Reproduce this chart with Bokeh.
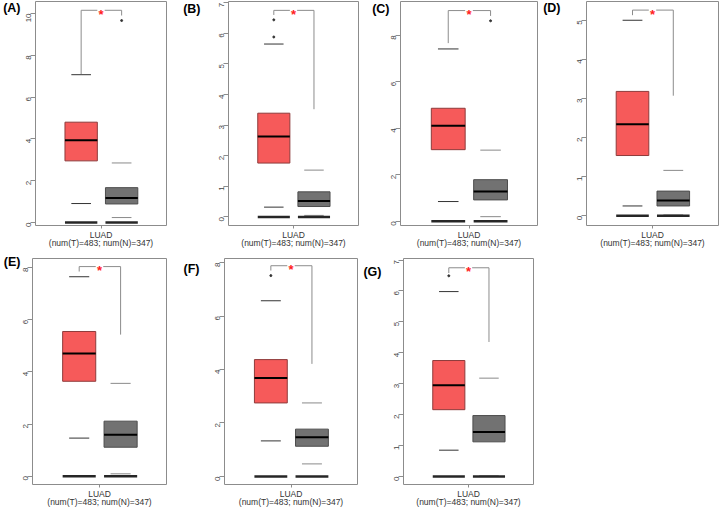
import math
from bokeh.plotting import figure
from bokeh.layouts import column, row
from bokeh.models import FixedTicker, Range1d, LinearAxis
from bokeh.embed import file_html
from bokeh.resources import INLINE

# ---------------- data ----------------
panel_labels = ["(A)", "(B)", "(C)", "(D)", "(E)", "(F)", "(G)"]
cancer_label = "LUAD"
sample_label = "(num(T)=483; num(N)=347)"

tumor_low = [0.91, 0.32, 0.85, 0.25, 1.46, 1.33, 0.85]
tumor_q1 = [2.95, 1.76, 3.08, 1.54, 3.64, 2.75, 2.16]
tumor_med = [3.94, 2.63, 4.11, 2.34, 4.71, 3.68, 2.95]
tumor_q3 = [4.80, 3.39, 4.86, 3.18, 5.55, 4.37, 3.75]
tumor_high = [7.07, 5.65, 7.41, 5.00, 7.65, 6.57, 5.98]

normal_low = [0.24, 0.05, 0.20, 0.02, 0.09, 0.47, 0.02]
normal_q1 = [0.89, 0.34, 0.92, 0.25, 1.11, 1.13, 1.12]
normal_med = [1.18, 0.52, 1.28, 0.39, 1.59, 1.47, 1.44]
normal_q3 = [1.67, 0.82, 1.79, 0.63, 2.11, 1.77, 1.97]
normal_high = [2.85, 1.53, 3.06, 1.16, 3.56, 2.75, 3.18]

# significance bracket: common level and where each arm ends
bracket_level = [10.15, 6.75, 9.06, 5.26, 8.04, 7.88, 6.75]
bracket_tumor_end = [7.10, 6.60, 7.66, 5.13, 7.85, 7.70, 6.58]
bracket_normal_end = [9.90, 3.52, 8.83, 3.07, 5.43, 4.21, 4.35]

# a few isolated points that stand clear of the clouds
outlier_panel = [0, 1, 1, 2, 5, 6]
outlier_group = ["N", "T", "T", "N", "T", "T"]
outlier_value = [9.66, 6.44, 5.88, 8.62, 7.51, 6.49]

y_ticks = [
    [0, 2, 4, 6, 8, 10],
    [0, 1, 2, 3, 4, 5, 6, 7],
    [0, 2, 4, 6, 8],
    [0, 1, 2, 3, 4, 5],
    [0, 2, 4, 6, 8],
    [0, 2, 4, 6, 8],
    [0, 1, 2, 3, 4, 5, 6, 7],
]

# ---------------- layout / style ----------------
y_lo = [-0.14, -0.28, -0.18, -0.25, -0.32, -0.30, -0.26]
y_hi = [10.57, 7.04, 9.45, 5.48, 8.35, 8.15, 7.05]
tag_y = [10.26, 6.80, 9.13, 5.32, 8.33, 7.74, 6.60]   # vertical centre of each panel tag
# (width, height, border L, R, T, B, panel-tag standoff)
geom = [
    (180, 253, 33, 14, 1, 28, 0),
    (180, 253, 44, 2, 1, 26, 13),
    (180, 253, 40, 3, 1, 24, -4),
    (180, 253, 46, 2, 1, 24, 11),
    (180, 259, 31, 14, 4, 28, -3),
    (180, 259, 43, 3, 5, 28, 10),
    (180, 259, 39, 7, 2, 27, 7),
]

T_BOX = (0.225, 0.472)
N_BOX = (0.534, 0.781)
WHISK = 0.075
GAP = 0.028
FONT = "Liberation Sans"
FRAME = "#8c8c8c"
T_FILL, T_LINE = "#f65a5a", "#8e3b3b"
N_FILL, N_LINE = "#727272", "#4d4d4d"


def make_panel(i):
    w, h, bl, br, bt, bb, tag_off = geom[i]
    p = figure(width=w, height=h, x_range=Range1d(0, 1),
               y_range=Range1d(y_lo[i], y_hi[i]),
               output_backend="svg", toolbar_location=None,
               min_border_left=bl, min_border_right=br,
               min_border_top=bt, min_border_bottom=bb)
    p.grid.visible = False
    p.outline_line_color = FRAME
    p.outline_line_width = 1

    ya = p.yaxis[0]
    ya.ticker = FixedTicker(ticks=y_ticks[i])
    ya.major_label_orientation = math.pi / 2
    ya.axis_line_color = None
    ya.axis_label = None
    ya.major_tick_in = 0
    ya.major_tick_out = 5
    ya.major_tick_line_color = FRAME
    ya.minor_tick_line_color = None
    ya.major_label_standoff = 2
    ya.major_label_text_font = FONT
    ya.major_label_text_font_size = "8px"
    ya.major_label_text_color = "#444444"

    # panel tag: the single tick label of an extra, line-less left axis
    tag = LinearAxis(ticker=FixedTicker(ticks=[tag_y[i]]),
                     major_label_overrides={tag_y[i]: panel_labels[i]},
                     major_label_orientation="horizontal",
                     axis_line_color=None, major_tick_line_color=None,
                     minor_tick_line_color=None, major_tick_in=0, major_tick_out=0,
                     major_label_standoff=tag_off, axis_label=None,
                     major_label_text_font=FONT, major_label_text_font_size="12.5px",
                     major_label_text_font_style="bold", major_label_text_color="black")
    p.add_layout(tag, "left")

    xa = p.xaxis[0]
    xa.ticker = FixedTicker(ticks=[0.5])
    xa.major_label_overrides = {0.5: cancer_label + "\n" + sample_label}
    xa.axis_label = None
    xa.axis_line_color = None
    xa.major_tick_in = 0
    xa.major_tick_out = 3
    xa.major_tick_line_color = FRAME
    xa.minor_tick_line_color = None
    xa.major_label_standoff = 1
    xa.major_label_text_font = FONT
    xa.major_label_text_font_size = "8.5px"
    xa.major_label_text_line_height = 0.85
    xa.major_label_text_color = "#333333"

    tc = (T_BOX[0] + T_BOX[1]) / 2
    nc = (N_BOX[0] + N_BOX[1]) / 2

    # boxes
    p.quad(left=[T_BOX[0]], right=[T_BOX[1]], bottom=[tumor_q1[i]], top=[tumor_q3[i]],
           fill_color=T_FILL, line_color=T_LINE, line_width=1)
    p.quad(left=[N_BOX[0]], right=[N_BOX[1]], bottom=[normal_q1[i]], top=[normal_q3[i]],
           fill_color=N_FILL, line_color=N_LINE, line_width=1)
    # medians
    p.segment(x0=[T_BOX[0], N_BOX[0]], x1=[T_BOX[1], N_BOX[1]],
              y0=[tumor_med[i], normal_med[i]], y1=[tumor_med[i], normal_med[i]],
              line_color="black", line_width=2)
    # whiskers
    p.segment(x0=[tc - WHISK, tc - WHISK], x1=[tc + WHISK, tc + WHISK],
              y0=[tumor_low[i], tumor_high[i]], y1=[tumor_low[i], tumor_high[i]],
              line_color="#333333", line_width=1)
    p.segment(x0=[nc - WHISK, nc - WHISK], x1=[nc + WHISK, nc + WHISK],
              y0=[normal_low[i], normal_high[i]], y1=[normal_low[i], normal_high[i]],
              line_color="#8a8a8a", line_width=1)
    # zero bars
    p.segment(x0=[T_BOX[0], N_BOX[0]], x1=[T_BOX[1], N_BOX[1]], y0=[0, 0], y1=[0, 0],
              line_color="#262626", line_width=2.5)
    # isolated points
    ox, oy = [], []
    for k, pi_ in enumerate(outlier_panel):
        if pi_ == i:
            ox.append(tc if outlier_group[k] == "T" else nc)
            oy.append(outlier_value[k])
    if ox:
        p.scatter(x=ox, y=oy, size=2, color="#333333", marker="circle")
    # bracket
    lvl = bracket_level[i]
    p.multi_line(xs=[[tc, tc, 0.5 - GAP], [0.5 + GAP, nc, nc]],
                 ys=[[bracket_tumor_end[i], lvl, lvl], [lvl, lvl, bracket_normal_end[i]]],
                 line_color=FRAME, line_width=1)
    p.text(x=[0.5], y=[lvl], text=["*"], text_color="#ff2020", text_align="center",
           text_baseline="middle", text_font_size="13px", y_offset=4,
           text_font_style="bold")
    return p


panels = [make_panel(i) for i in range(7)]
layout = column(row(*panels[:4]), row(*panels[4:]))

open("out.html", "w").write(file_html(layout, INLINE))
